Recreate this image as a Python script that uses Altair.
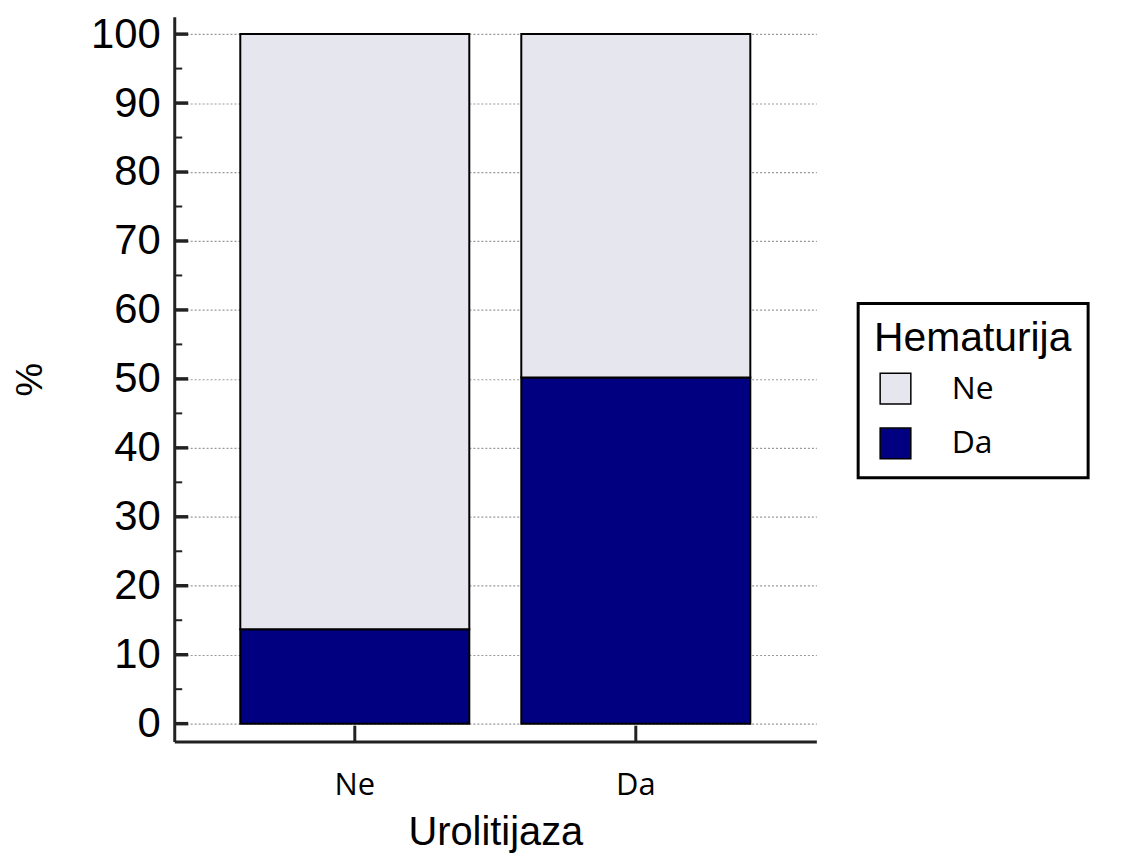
import altair as alt
import pandas as pd

# Urolitijaza categories (x axis)
categories = ["Ne", "Da"]
# Hematurija groups (legend)
groups = ["Ne", "Da"]
# percentage of Hematurija = Da / Ne within each Urolitijaza category
da_values = [13.7, 50.2]
ne_values = [86.3, 49.8]
# axis tick values
major_ticks = list(range(0, 101, 10))
minor_ticks = list(range(5, 100, 10))

rows = []
for i, c in enumerate(categories):
    rows.append({"cat": c, "grp": "Da", "value": da_values[i], "ord": 0})
    rows.append({"cat": c, "grp": "Ne", "value": ne_values[i], "ord": 1})
df = pd.DataFrame(rows)

yscale = alt.Scale(domain=[-2.6, 102.5], nice=False, zero=False)
xscale = alt.Scale(domain=categories, paddingInner=0.185, paddingOuter=0.235)

xaxis = alt.Axis(ticks=False, domainColor="#222", domainWidth=3,
                 labelFont="Open Sans", labelFontSize=31, labelColor="black",
                 labelPadding=29, labelAngle=0,
                 titleFont="Liberation Sans", titleFontSize=40,
                 titleFontWeight="normal", titleColor="black", titlePadding=12)
yaxis = alt.Axis(values=major_ticks, ticks=False, domainColor="#222", domainWidth=3,
                 labelFont="Liberation Sans", labelFontSize=42, labelColor="black",
                 labelPadding=14, grid=True, gridDash=[2, 2], gridColor="#999",
                 gridWidth=1.2,
                 titleFont="Liberation Sans", titleFontSize=38,
                 titleFontWeight="normal", titleColor="black",
                 titleX=-144, titleY=364, titleAngle=270,
                 titleAlign="center", titleBaseline="middle")

bars = alt.Chart(df).mark_bar(stroke="black", strokeWidth=2).encode(
    x=alt.X("cat:N", scale=xscale, sort=categories, title="Urolitijaza", axis=xaxis),
    y=alt.Y("value:Q", scale=yscale, stack="zero", title="%", axis=yaxis),
    color=alt.Color("grp:N",
                    scale=alt.Scale(domain=groups, range=["#e6e6ef", "#000080"]),
                    legend=alt.Legend(title="Hematurija", orient="none", legendX=687, legendY=288,
                                      strokeColor="black", fillColor="white", padding=16,
                                      titleFont="Liberation Sans", titleFontSize=41,
                                      titleFontWeight="normal", titleColor="black",
                                      titlePadding=12, titleLimit=500,
                                      labelFont="Open Sans", labelFontSize=32, labelColor="black",
                                      labelOffset=40, symbolType="square", symbolSize=950,
                                      symbolStrokeColor="black", symbolStrokeWidth=1.5,
                                      symbolOffset=5, rowPadding=18)),
    order=alt.Order("ord:Q", sort="ascending"),
)

yticks_major = alt.Chart(pd.DataFrame({"value": major_ticks})).mark_rule(
    color="#222", strokeWidth=3.5).encode(
    y=alt.Y("value:Q", scale=yscale, title="%", axis=yaxis),
    x=alt.value(0), x2=alt.value(14))

yticks_minor = alt.Chart(pd.DataFrame({"value": minor_ticks})).mark_rule(
    color="#222", strokeWidth=2).encode(
    y=alt.Y("value:Q", scale=yscale, title="%", axis=yaxis),
    x=alt.value(0), x2=alt.value(8))

xticks = alt.Chart(pd.DataFrame({"cat": categories})).mark_rule(
    color="#222", strokeWidth=3).encode(
    x=alt.X("cat:N", scale=xscale, sort=categories, title="Urolitijaza", axis=xaxis,
            bandPosition=0.5),
    y=alt.value(728), y2=alt.value(712))

chart = alt.layer(bars, yticks_major, yticks_minor, xticks).properties(
    width=645, height=728,
    autosize=alt.AutoSizeParams(type="none"),
    padding={"left": 167, "top": 7, "right": 300, "bottom": 112},
).configure_view(stroke=None).configure_legend(strokeWidth=3)

chart.save("out.html", embed_options={"renderer": "svg", "actions": False})
